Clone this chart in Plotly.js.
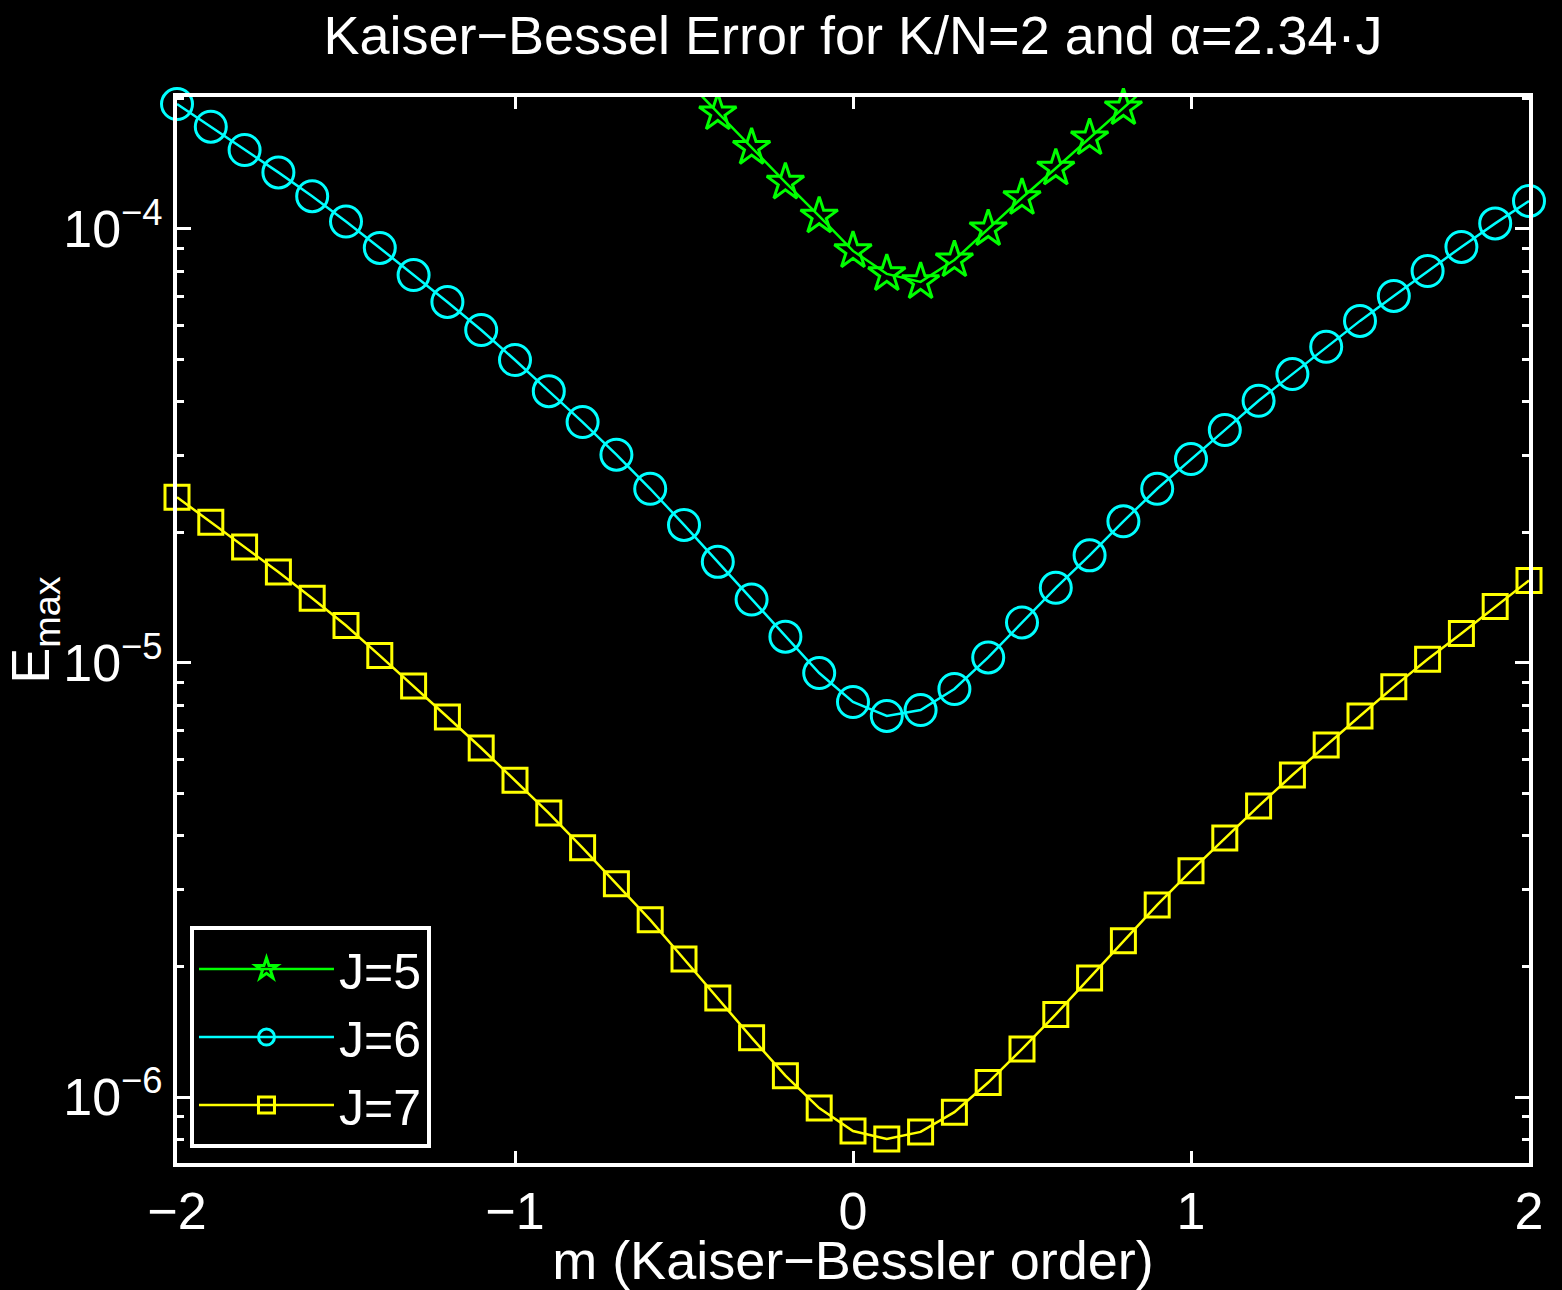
<!DOCTYPE html>
<html><head><meta charset="utf-8">
<script src="https://cdn.plot.ly/plotly-3.0.1.min.js"></script>
<style>html,body{margin:0;padding:0;background:#000;}</style>
</head><body>
<div id="chart" style="width:1562px;height:1290px;"></div>
<script>
const m = [-2.0,-1.9,-1.8,-1.7,-1.6,-1.5,-1.4,-1.3,-1.2,-1.1,-1.0,-0.9,-0.8,-0.7,-0.6,-0.5,-0.4,-0.3,-0.2,-0.1,0.0,0.1,0.2,0.3,0.4,0.5,0.6,0.7,0.8,0.9,1.0,1.1,1.2,1.3,1.4,1.5,1.6,1.7,1.8,1.9,2.0];
const m5 = [-0.5,-0.4,-0.3,-0.2,-0.1,0.0,0.1,0.2,0.3,0.4,0.5,0.6,0.7,0.8,0.9];
const errJ5 = [2.23e-4,1.85e-4,1.54e-4,1.28e-4,1.07e-4,8.90e-5,7.88e-5,7.55e-5,8.48e-5,1.00e-4,1.18e-4,1.38e-4,1.62e-4,1.90e-4,2.23e-4];
const errJ6 = [1.94e-4,1.72e-4,1.52e-4,1.35e-4,1.19e-4,1.04e-4,9.04e-5,7.83e-5,6.79e-5,5.85e-5,4.99e-5,4.23e-5,3.59e-5,3.02e-5,2.52e-5,2.08e-5,1.71e-5,1.40e-5,1.15e-5,9.48e-6,8.13e-6,7.55e-6,7.79e-6,8.71e-6,1.03e-5,1.24e-5,1.49e-5,1.77e-5,2.12e-5,2.52e-5,2.95e-5,3.44e-5,4.02e-5,4.63e-5,5.35e-5,6.14e-5,7.01e-5,8.00e-5,9.09e-5,1.03e-4,1.16e-4];
const errJ7 = [2.41e-5,2.11e-5,1.85e-5,1.62e-5,1.41e-5,1.22e-5,1.04e-5,8.85e-6,7.51e-6,6.37e-6,5.37e-6,4.51e-6,3.75e-6,3.10e-6,2.56e-6,2.08e-6,1.69e-6,1.37e-6,1.12e-6,9.43e-7,8.35e-7,8.00e-7,8.31e-7,9.23e-7,1.08e-6,1.29e-6,1.55e-6,1.88e-6,2.29e-6,2.77e-6,3.32e-6,3.95e-6,4.68e-6,5.52e-6,6.47e-6,7.55e-6,8.81e-6,1.02e-5,1.17e-5,1.35e-5,1.55e-5];
const seriesNames = ['J=5','J=6','J=7'];
const xTickVals = [-2,-1,0,1,2];
const xTickText = ['\u22122','\u22121','0','1','2'];
const yTickVals = [1e-6,1e-5,1e-4];
const yTickText = ['10<sup>\u22126</sup>','10<sup>\u22125</sup>','10<sup>\u22124</sup>'];

const FONT = 'Liberation Sans, Arial, Helvetica, sans-serif';

const traces = [
  {x:m5, y:errJ5, name:seriesNames[0], mode:'lines+markers', cliponaxis:false,
   line:{color:'#00ff00', width:2.5},
   marker:{symbol:'star-open', size:28, color:'#00ff00', line:{color:'#00ff00', width:3}}},
  {x:m, y:errJ6, name:seriesNames[1], mode:'lines+markers', cliponaxis:false,
   line:{color:'#00ffff', width:2.5},
   marker:{symbol:'circle-open', size:31, color:'#00ffff', line:{color:'#00ffff', width:3}}},
  {x:m, y:errJ7, name:seriesNames[2], mode:'lines+markers', cliponaxis:false,
   line:{color:'#ffff00', width:2.5},
   marker:{symbol:'square-open', size:24, color:'#ffff00', line:{color:'#ffff00', width:3}}}
];

const layout = {
  width:1562, height:1290,
  paper_bgcolor:'#000', plot_bgcolor:'#000',
  font:{family:FONT, color:'#fff', size:52},
  margin:{l:177, r:33, t:97, b:127},
  showlegend:true,
  title:{text:'Kaiser\u2212Bessel Error for K/N=2 and \u03b1=2.34\u00b7J',
         x:0.5, xref:'paper', y:1-35/1290, yref:'container', yanchor:'middle',
         font:{family:FONT, size:54, color:'#fff'}},
  xaxis:{range:[-2,2], tickvals:xTickVals, ticktext:xTickText,
         showgrid:false, zeroline:false,
         showline:true, linecolor:'#fff', linewidth:4, mirror:'allticks',
         ticks:'inside', ticklen:12, tickwidth:3, tickcolor:'#fff',
         tickfont:{size:52, color:'#fff'},
         title:{text:'m (Kaiser\u2212Bessler order)', standoff:12, font:{size:54, color:'#fff'}}},
  yaxis:{type:'log', range:[-6.152,-3.696], tickvals:yTickVals, ticktext:yTickText,
         showgrid:false, zeroline:false,
         showline:true, linecolor:'#fff', linewidth:4, mirror:'allticks',
         ticks:'inside', ticklen:14, tickwidth:3, tickcolor:'#fff',
         minor:{ticks:'inside', ticklen:7, tickwidth:3, tickcolor:'#fff', dtick:'D1', showgrid:false},
         tickfont:{size:52, color:'#fff'},
         title:{text:'E<sub>max</sub>', standoff:0, font:{size:54, color:'#fff'}}},
  legend:{x:0.0096, y:0.014, xanchor:'left', yanchor:'bottom',
          bgcolor:'#000', bordercolor:'#fff', borderwidth:4,
          font:{size:50, color:'#fff'}, itemwidth:135, tracegroupgap:0}
};

Plotly.newPlot('chart', traces, layout, {staticPlot:true, displayModeBar:false});
</script>
</body></html>
